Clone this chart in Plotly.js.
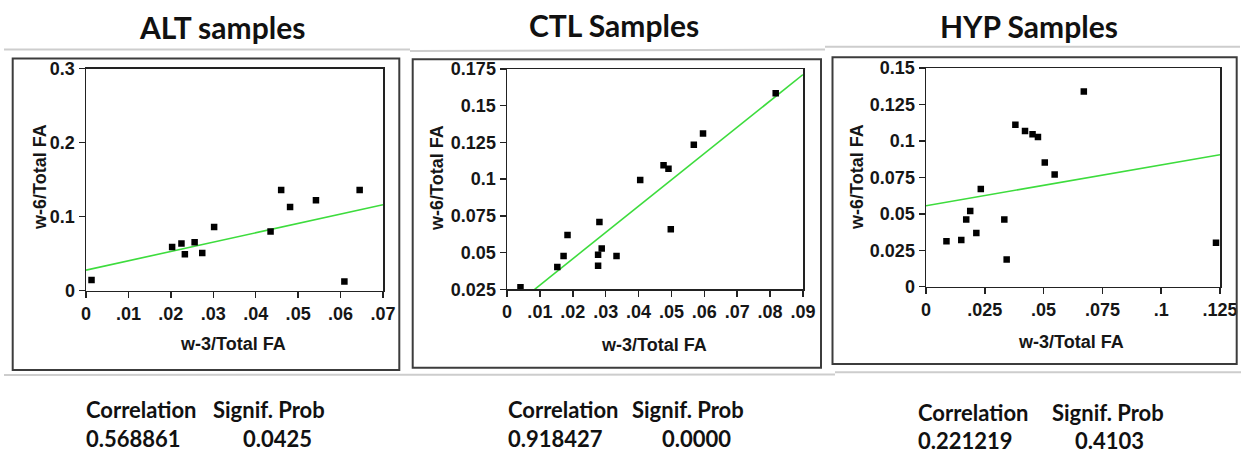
<!DOCTYPE html>
<html>
<head>
<meta charset="utf-8">
<script src="https://cdn.plot.ly/plotly-3.0.1.min.js"></script>
<style>html,body{margin:0;padding:0;background:#fff;}#chart{width:1241px;height:456px;}</style>
</head>
<body>
<div id="chart"></div>
<script>
// ---------- DATA ----------
const panelTitles = ["ALT samples", "CTL Samples", "HYP Samples"];
const xAxisTitle = "w-3/Total FA";
const yAxisTitle = "w-6/Total FA";

// ALT
const altX = [0.0013, 0.0203, 0.0225, 0.0233, 0.0256, 0.0274, 0.0302, 0.0435, 0.0460, 0.0481, 0.0542, 0.0609, 0.0645];
const altY = [0.0143, 0.0591, 0.0636, 0.0493, 0.0654, 0.0510, 0.0860, 0.0800, 0.1360, 0.1130, 0.1220, 0.0125, 0.1360];
const altFitX = [0, 0.07];
const altFitY = [0.0278, 0.116];
const altXTicks = [0, 0.01, 0.02, 0.03, 0.04, 0.05, 0.06, 0.07];
const altXTickText = ["0", ".01", ".02", ".03", ".04", ".05", ".06", ".07"];
const altYTicks = [0, 0.1, 0.2, 0.3];
const altYTickText = ["0", "0.1", "0.2", "0.3"];

// CTL
const ctlX = [0.0041, 0.0153, 0.0172, 0.0184, 0.0277, 0.0277, 0.0281, 0.0288, 0.0333, 0.0405, 0.0476, 0.0491, 0.0498, 0.0568, 0.0596, 0.0817];
const ctlY = [0.0264, 0.0402, 0.0476, 0.0619, 0.0485, 0.0411, 0.0709, 0.0528, 0.0476, 0.0994, 0.1094, 0.1071, 0.0659, 0.1234, 0.1311, 0.1585];
const ctlFitX = [0.0084, 0.09];
const ctlFitY = [0.025, 0.1712];
const ctlXTicks = [0, 0.01, 0.02, 0.03, 0.04, 0.05, 0.06, 0.07, 0.08, 0.09];
const ctlXTickText = ["0", ".01", ".02", ".03", ".04", ".05", ".06", ".07", ".08", ".09"];
const ctlYTicks = [0.025, 0.05, 0.075, 0.1, 0.125, 0.15, 0.175];
const ctlYTickText = ["0.025", "0.05", "0.075", "0.1", "0.125", "0.15", "0.175"];

// HYP
const hypX = [0.0087, 0.0150, 0.0171, 0.0188, 0.0214, 0.0233, 0.0333, 0.0343, 0.0380, 0.0421, 0.0453, 0.0476, 0.0505, 0.0547, 0.0671, 0.1233];
const hypY = [0.0311, 0.0320, 0.0461, 0.0520, 0.0368, 0.0670, 0.0461, 0.0186, 0.1111, 0.1068, 0.1045, 0.1027, 0.0852, 0.0770, 0.1339, 0.0302];
const hypFitX = [0, 0.125];
const hypFitY = [0.0555, 0.0905];
const hypXTicks = [0, 0.025, 0.05, 0.075, 0.1, 0.125];
const hypXTickText = ["0", ".025", ".05", ".075", ".1", ".125"];
const hypYTicks = [0, 0.025, 0.05, 0.075, 0.1, 0.125, 0.15];
const hypYTickText = ["0", "0.025", "0.05", "0.075", "0.1", "0.125", "0.15"];

// stats
const statHeaders = ["Correlation", "Signif. Prob"];
const correlations = ["0.568861", "0.918427", "0.221219"];
const signifProbs = ["0.0425", "0.0000", "0.4103"];

// ---------- LAYOUT HELPERS ----------
const W = 1241, H = 456;
const px = v => v / W;
const py = v => 1 - v / H;

const panels = [
  {x: altX, y: altY, fx: altFitX, fy: altFitY, xt: altXTicks, xtt: altXTickText, yt: altYTicks, ytt: altYTickText,
   xr: [0, 0.07], yr: [0, 0.3], dom: [86, 383, 68.5, 290.7], frame: [12.7, 399.3, 58.5, 370],
   title: [222, 27], ytitle: [40, 177], xtitle: [233, 344],
   stat: {c: 85, s: 212, c2: 85, s2: 242, r1: 409, r2: 438}},
  {x: ctlX, y: ctlY, fx: ctlFitX, fy: ctlFitY, xt: ctlXTicks, xtt: ctlXTickText, yt: ctlYTicks, ytt: ctlYTickText,
   xr: [0, 0.09], yr: [0.025, 0.175], dom: [507, 803, 69, 289.3], frame: [412.7, 821, 59.3, 367.7],
   title: [614, 25], ytitle: [437, 178], xtitle: [654, 345],
   stat: {c: 507, s: 631, c2: 507, s2: 661, r1: 409, r2: 438}},
  {x: hypX, y: hypY, fx: hypFitX, fy: hypFitY, xt: hypXTicks, xtt: hypXTickText, yt: hypYTicks, ytt: hypYTickText,
   xr: [0, 0.125], yr: [0, 0.15], dom: [926, 1220, 68, 286.7], frame: [832.5, 1236.7, 57.3, 364],
   title: [1029, 26], ytitle: [857, 177], xtitle: [1071, 342],
   stat: {c: 917, s: 1051, c2: 917, s2: 1074, r1: 412, r2: 440}}
];

const tickFont = {family: "Liberation Sans, Arial, sans-serif", size: 18, color: "#161616", weight: 700};
const titleFont = {family: "Lato, sans-serif", size: 30, color: "#111", weight: 700};
const statFont = {family: "Lato, sans-serif", size: 22, color: "#111", weight: 700};

const data = [];
const layout = {
  width: W, height: H,
  margin: {l: 0, r: 0, t: 0, b: 0},
  paper_bgcolor: "#fff", plot_bgcolor: "#fff",
  showlegend: false,
  annotations: [], shapes: []
};

panels.forEach((p, i) => {
  const n = i === 0 ? "" : String(i + 1);
  const xa = "x" + n, ya = "y" + n;
  data.push({x: p.fx, y: p.fy, xaxis: xa, yaxis: ya, type: "scatter", mode: "lines",
             line: {color: "#3ddc3d", width: 1.6}, hoverinfo: "skip"});
  data.push({x: p.x, y: p.y, xaxis: xa, yaxis: ya, type: "scatter", mode: "markers",
             marker: {symbol: "square", size: 6.5, color: "#000"}});
  const axCommon = {showgrid: false, zeroline: false, showline: true, mirror: true,
    linecolor: "#222", linewidth: 1.5, ticks: "outside", ticklen: 6, tickwidth: 1.5,
    tickcolor: "#222", tickfont: tickFont, tickmode: "array", fixedrange: true};
  layout["xaxis" + n] = Object.assign({}, axCommon, {
    domain: [px(p.dom[0]), px(p.dom[1])], range: p.xr, tickvals: p.xt, ticktext: p.xtt,
    anchor: ya});
  layout["yaxis" + n] = Object.assign({}, axCommon, {
    domain: [py(p.dom[3]), py(p.dom[2])], range: p.yr, tickvals: p.yt, ticktext: p.ytt,
    anchor: xa});

  // frame
  layout.shapes.push({type: "rect", xref: "paper", yref: "paper",
    x0: px(p.frame[0]), x1: px(p.frame[1]), y0: py(p.frame[3]), y1: py(p.frame[2]),
    line: {color: "#3c3c3c", width: 2}});

  // titles
  layout.annotations.push({text: panelTitles[i], xref: "paper", yref: "paper",
    x: px(p.title[0]), y: py(p.title[1]), xanchor: "center", yanchor: "middle",
    showarrow: false, font: titleFont});
  layout.annotations.push({text: yAxisTitle, xref: "paper", yref: "paper",
    x: px(p.ytitle[0]), y: py(p.ytitle[1]), xanchor: "center", yanchor: "middle",
    textangle: -90, showarrow: false, font: tickFont});
  layout.annotations.push({text: xAxisTitle, xref: "paper", yref: "paper",
    x: px(p.xtitle[0]), y: py(p.xtitle[1]), xanchor: "center", yanchor: "middle",
    showarrow: false, font: tickFont});

  // stats
  const s = p.stat;
  [[statHeaders[0], s.c, s.r1], [statHeaders[1], s.s, s.r1],
   [correlations[i], s.c2, s.r2], [signifProbs[i], s.s2, s.r2]].forEach(t => {
    layout.annotations.push({text: t[0], xref: "paper", yref: "paper",
      x: px(t[1]), y: py(t[2]), xanchor: "left", yanchor: "middle",
      showarrow: false, font: statFont, borderpad: 0});
  });
});

// light separator lines
const sepColor = "#cdcdcd";
[[4, 49.5, 410, 49.5], [410, 51, 825, 49.5], [825, 46.7, 1240, 46.7],
 [4, 375, 835, 374.5], [835, 372.3, 1241, 372.3]].forEach(l => {
  layout.shapes.push({type: "line", xref: "paper", yref: "paper",
    x0: px(l[0]), y0: py(l[1]), x1: px(l[2]), y1: py(l[3]),
    line: {color: sepColor, width: 2}});
});

Plotly.newPlot("chart", data, layout, {displayModeBar: false, staticPlot: true});
</script>
</body>
</html>
